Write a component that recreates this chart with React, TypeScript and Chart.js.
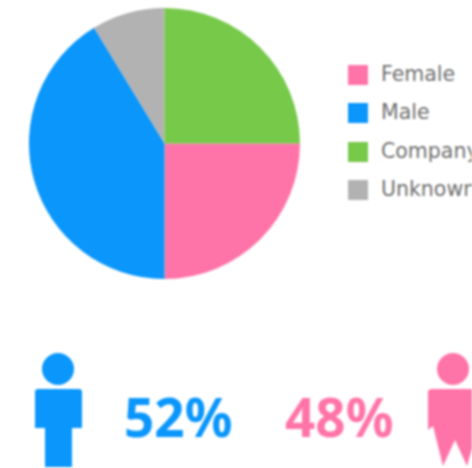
import React, { useEffect, useRef } from "react";
import { Chart, registerables } from "chart.js";

Chart.register(...registerables);

const sliceLabels = ["Female", "Male", "Unknown", "Company"];
const sliceValues = [25, 41.3, 8.7, 25];
const sliceColors = ["#ff74a8", "#0a96fb", "#b2b2b2", "#77c94a"];
const legendOrder = ["Female", "Male", "Company", "Unknown"];
const malePct = "52%";
const femalePct = "48%";

const abs = (left: number, top: number, extra: React.CSSProperties = {}): React.CSSProperties => ({
  position: "absolute",
  left,
  top,
  ...extra,
});

export default function App() {
  const ref = useRef<HTMLCanvasElement>(null);
  useEffect(() => {
    const chart = new Chart(ref.current!, {
      type: "pie",
      data: {
        labels: sliceLabels,
        datasets: [{ data: sliceValues, backgroundColor: sliceColors, borderWidth: 0 }],
      },
      options: {
        animation: false,
        responsive: false,
        rotation: 90,
        layout: { padding: 0 },
        plugins: { legend: { display: false }, tooltip: { enabled: false } },
      },
    });
    return () => chart.destroy();
  }, []);

  const pctStyle = { fontFamily: "'Noto Sans', sans-serif", fontSize: 53, fontWeight: 700, lineHeight: "58px" };

  return (
    <div
      style={{
        position: "fixed",
        left: 0,
        top: 0,
        width: 472,
        height: 468,
        overflow: "hidden",
        background: "#fff",
        filter: "blur(1px)",
        fontFamily: "'DejaVu Sans', sans-serif",
      }}
    >
      <canvas ref={ref} width={271} height={271} style={abs(28.5, 7.5, { width: 271, height: 271 })} />
      {legendOrder.map((name, i) => (
        <React.Fragment key={name}>
          <div
            style={abs(348, 65 + i * 38.3, {
              width: 20,
              height: 20,
              background: sliceColors[sliceLabels.indexOf(name)],
            })}
          />
          <div
            style={abs(381, 61 + i * 38.3, {
              fontSize: 20.5,
              lineHeight: "26px",
              color: "#6f6f6f",
              whiteSpace: "nowrap",
            })}
          >
            {name}
          </div>
        </React.Fragment>
      ))}
      <svg width={472} height={468} style={abs(0, 0)}>
        <circle cx={58} cy={369} r={16} fill="#0a96fb" />
        <path
          d="M38 389H79Q82 389 82 392V428H72V467H45V428H35V392Q35 389 38 389Z"
          fill="#0a96fb"
        />
        <circle cx={453} cy={369} r={16} fill="#ff74a8" />
        <path
          d="M432 389H474Q478 389 478 392V428L467 466L455 440L443 466L433 426L428 430V392Q428 389 432 389Z"
          fill="#ff74a8"
        />
      </svg>
      <div style={abs(124, 388, { ...pctStyle, color: "#0a96fb" })}>{malePct}</div>
      <div style={abs(285, 388, { ...pctStyle, color: "#ff74a8" })}>{femalePct}</div>
    </div>
  );
}
